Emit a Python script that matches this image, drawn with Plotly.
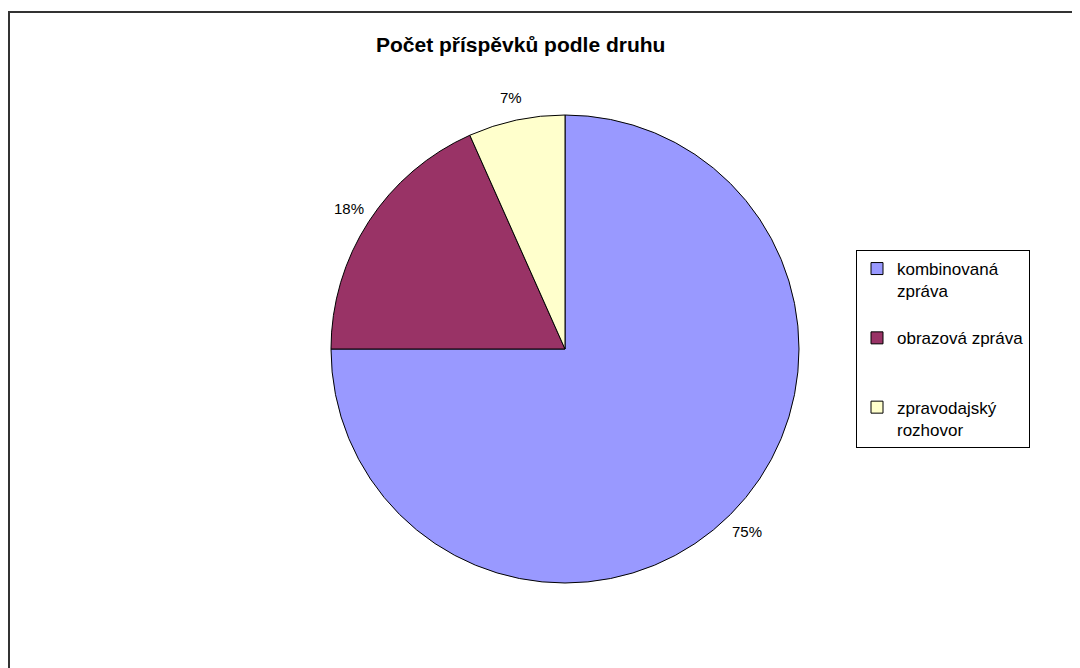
import math
import plotly.graph_objects as go

categories = ["kombinovaná<br>zpráva<br>\u00a0", "obrazová zpráva<br>\u00a0<br>\u00a0", "zpravodajský<br>rozhovor"]
counts = [45, 11, 4]
colors = ["#9999FF", "#993366", "#FFFFCC"]
title_text = "Počet příspěvků podle druhu"

OX, OY = 8, 8  # page body margin offset
W, H = 1080 - OX, 668 - OY
FONT = "Liberation Sans, Arial, sans-serif"

# pie domain (pixels in page, converted to paper)
px0, px1 = 331 - OX, 799 - OX
py_top, py_bot = 115 - OY, 583 - OY
dom_x = [px0 / W, px1 / W]
dom_y = [1 - py_bot / H, 1 - py_top / H]

fig = go.Figure(go.Pie(
    labels=categories,
    values=counts,
    sort=False,
    direction="clockwise",
    rotation=0,
    marker=dict(colors=colors, line=dict(color="black", width=1)),
    textinfo="none",
    domain=dict(x=dom_x, y=dom_y),
    hoverinfo="label+value+percent",
))

# percentage labels placed radially outside each slice, derived from the data
total = sum(counts)
cx = (px0 + px1) / 2
cy = (py_top + py_bot) / 2
r = (px1 - px0) / 2
label_r = r * 1.1
annotations = []
cum = 0
for v in counts:
    mid = (cum + v / 2) / total * 2 * math.pi
    cum += v
    lx = cx + label_r * math.sin(mid)
    ly = cy - label_r * math.cos(mid)
    annotations.append(dict(
        text=f"{round(100 * v / total)}%",
        x=lx / W, y=1 - ly / H, xref="paper", yref="paper",
        xanchor="center", yanchor="middle", showarrow=False,
        font=dict(family=FONT, size=15, color="black"),
    ))

annotations.append(dict(
    text="<b>" + title_text + "</b>",
    x=(520 - OX) / W, xref="paper", xanchor="center",
    y=1 - (44 - OY) / H, yref="paper", yanchor="middle",
    showarrow=False,
    font=dict(family=FONT, size=21, color="black"),
))

fig.update_layout(
    width=W, height=H,
    margin=dict(l=0, r=0, t=0, b=0),
    paper_bgcolor="white",
    plot_bgcolor="white",
    showlegend=True,
    legend=dict(
        x=(856 - OX) / W, xanchor="left",
        y=1 - (250 - OY) / H, yanchor="top",
        bordercolor="black", borderwidth=1,
        bgcolor="white",
        font=dict(family=FONT, size=17, color="black"),
        valign="top",
        itemwidth=30,
    ),
    annotations=annotations,
    shapes=[dict(
        type="rect", xref="paper", yref="paper",
        x0=(9 - OX) / W, x1=1.05, y0=-0.05, y1=1 - (12 - OY) / H,
        line=dict(color="#333333", width=2),
        fillcolor="rgba(0,0,0,0)",
        layer="above",
    )],
)

fig.write_html("out.html", config={"displayModeBar": False})
